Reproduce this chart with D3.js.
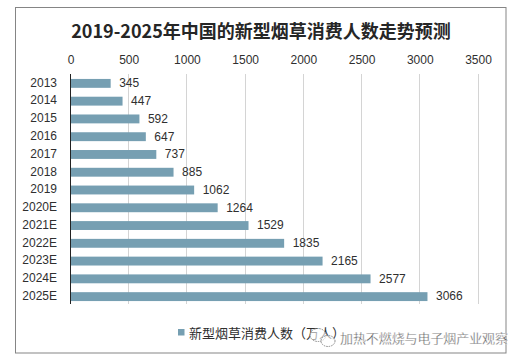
<!DOCTYPE html>
<html>
<head>
<meta charset="utf-8">
<script src="https://cdn.jsdelivr.net/npm/d3@7"></script>
<style>
  html, body { margin: 0; padding: 0; background: #fff; }
  svg { display: block; }
  text { font-family: "Liberation Sans", "Noto Sans CJK SC", sans-serif; fill: #2f2f2f; }
  .cjk { font-family: "Noto Sans CJK SC", sans-serif; }
</style>
</head>
<body>
<svg id="chart" width="524" height="361"></svg>
<script>
const categories = ['2013', '2014', '2015', '2016', '2017', '2018', '2019',
  '2020E', '2021E', '2022E', '2023E', '2024E', '2025E'];
const consumers = [345, 447, 592, 647, 737, 885, 1062, 1264, 1529, 1835, 2165, 2577, 3066];
const xTicks = [0, 500, 1000, 1500, 2000, 2500, 3000, 3500];
const titleText = '2019-2025年中国的新型烟草消费人数走势预测';
const legendText = '新型烟草消费人数（万人）';
const watermarkText = '加热不燃烧与电子烟产业观察';

let svg = d3.select('#chart');

svg.append('rect')
  .attr('x', 15.5).attr('y', 7.5)
  .attr('width', 490.5).attr('height', 345.5)
  .attr('fill', '#fff')
  .attr('stroke', '#858585');

svg.append('text')
  .attr('class', 'cjk')
  .attr('x', 261)
  .attr('y', 37.5)
  .attr('text-anchor', 'middle')
  .attr('font-size', 18)
  .attr('font-weight', 700)
  .style('fill', '#262626')
  .text(titleText);

let xScale = d3.scaleLinear().domain([0, 3500]).range([70.5, 478]);
let yScale = d3.scaleBand().domain(categories).range([74.5, 305.5]).paddingInner(0.5).paddingOuter(0.25);

// vertical gridlines go under the bars
svg.append('g').selectAll('line').data(xTicks.slice(1)).enter().append('line')
  .attr('x1', d => Math.floor(xScale(d)) + 0.5)
  .attr('x2', d => Math.floor(xScale(d)) + 0.5)
  .attr('y1', 74)
  .attr('y2', 304)
  .attr('stroke', '#d4d4d4');

let xAxis = d3.axisTop(xScale).tickValues(xTicks).tickSize(0).tickPadding(0).tickFormat(d3.format('d'));
let xAxisGroup = svg.append('g')
  .attr('transform', 'translate(0,64)')
  .call(xAxis);
xAxisGroup.select('.domain').remove();
xAxisGroup.selectAll('text')
  .attr('font-size', 12);

svg.append('g').selectAll('rect').data(consumers).enter().append('rect')
  .attr('x', xScale(0))
  .attr('y', (d, i) => yScale(categories[i]))
  .attr('width', d => xScale(d) - xScale(0))
  .attr('height', yScale.bandwidth())
  .attr('fill', '#769fb2');

let yAxis = d3.axisLeft(yScale).tickSize(0).tickPadding(13);
let yAxisGroup = svg.append('g')
  .attr('transform', 'translate(70,-0.5)')
  .call(yAxis);
yAxisGroup.select('.domain').remove();
yAxisGroup.selectAll('text')
  .attr('font-size', 12);

svg.append('line')
  .attr('x1', 70.5).attr('x2', 70.5)
  .attr('y1', 74).attr('y2', 304)
  .attr('stroke', '#222');

svg.append('g').selectAll('text').data(consumers).enter().append('text')
  .attr('x', d => xScale(d) + 8.5)
  .attr('y', (d, i) => yScale(categories[i]) + yScale.bandwidth() / 2 - 0.5)
  .attr('dy', '0.36em')
  .attr('font-size', 12)
  .text(d => d);

// legend
svg.append('rect')
  .attr('x', 178).attr('y', 329)
  .attr('width', 6.5).attr('height', 6.5)
  .attr('fill', '#769fb2');
svg.append('text')
  .attr('class', 'cjk')
  .attr('x', 189)
  .attr('y', 337.5)
  .attr('font-size', 13)
  .text(legendText);

// wechat style watermark sits on top of the legend
let mark = svg.append('g').attr('fill', 'rgba(255,255,255,0.6)').attr('stroke', '#888').attr('stroke-dasharray', '1.5 1');
mark.append('ellipse').attr('cx', 318).attr('cy', 335).attr('rx', 8).attr('ry', 6.5);
mark.append('ellipse').attr('cx', 328).attr('cy', 341).attr('rx', 7).attr('ry', 5.5);

svg.append('text')
  .attr('class', 'cjk')
  .attr('x', 340)
  .attr('y', 343)
  .attr('font-size', 13)
  .attr('textLength', 168)
  .style('fill', '#555')
  .style('stroke', '#fff')
  .style('stroke-width', 0.3)
  .text(watermarkText);
</script>
</body>
</html>
